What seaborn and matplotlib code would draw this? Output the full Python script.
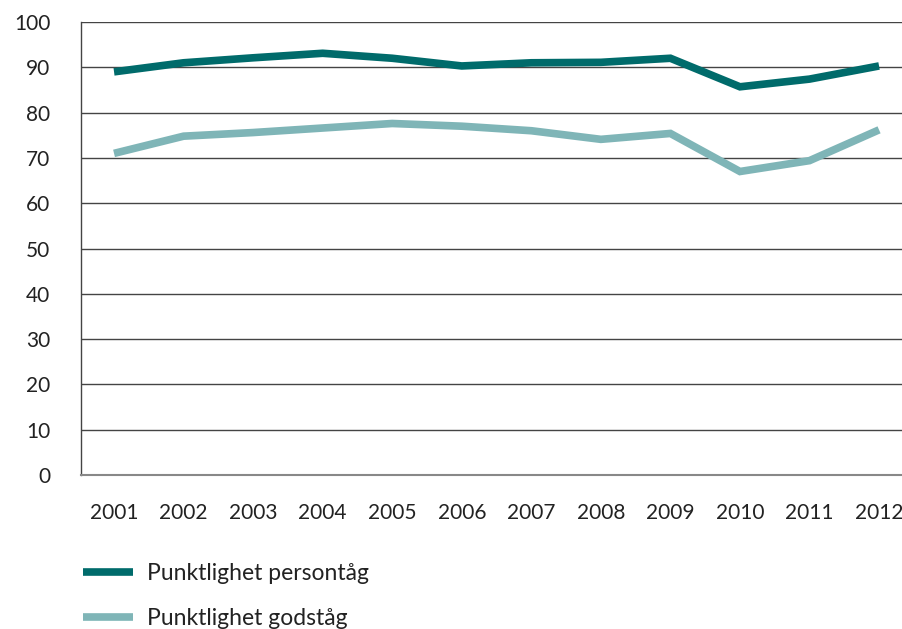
import matplotlib.pyplot as plt
import seaborn as sns
import pandas as pd

# Punctuality per year (%) for passenger and freight trains
years = [2001, 2002, 2003, 2004, 2005, 2006, 2007, 2008, 2009, 2010, 2011, 2012]
persontag = [89.0, 91.0, 92.1, 93.1, 92.0, 90.3, 91.0, 91.1, 92.0, 85.7, 87.4, 90.3]
godstag = [71.0, 74.8, 75.6, 76.6, 77.6, 77.0, 76.0, 74.1, 75.4, 67.0, 69.4, 76.2]
series_names = ["Punktlighet persontåg", "Punktlighet godståg"]
colors = {"Punktlighet persontåg": "#006b6b", "Punktlighet godståg": "#7fb5b7"}

df = pd.DataFrame({
    "year": years * 2,
    "value": persontag + godstag,
    "serie": [series_names[0]] * len(years) + [series_names[1]] * len(years),
})

sns.set_style("white")
plt.rcParams["font.family"] = ["Lato", "DejaVu Sans"]

fig = plt.figure(figsize=(9.02, 6.29), dpi=100)
ax = fig.add_axes([0.0898, 0.2448, 0.9102, 0.7202])

sns.lineplot(data=df, x="year", y="value", hue="serie", palette=colors,
             linewidth=5.5, ax=ax, legend=False)
for line in ax.lines:
    line.set_solid_capstyle("butt")
    line.set_solid_joinstyle("miter")

ax.set_xlim(2000.525, 2012.33)
ax.set_ylim(0, 100)
ax.set_yticks(range(0, 101, 10))
ax.set_xticks(years)
ax.set_xticklabels([str(y) for y in years])
ax.yaxis.grid(True, color="#444444", linewidth=1)
ax.set_axisbelow(True)

for side in ["top", "right"]:
    ax.spines[side].set_visible(False)
ax.spines["left"].set_color("#444444")
ax.spines["bottom"].set_color("#888888")
ax.spines["left"].set_linewidth(1)
ax.spines["bottom"].set_linewidth(1.5)

ax.tick_params(axis="y", length=5, width=1, color="#444444", pad=17,
               labelsize=15, labelcolor="#222222")
ax.tick_params(axis="x", length=0, pad=20, labelsize=15, labelcolor="#222222")
ax.set_xlabel("")
ax.set_ylabel("")

handles = [plt.Line2D([], [], color=colors[n], linewidth=5.5, solid_capstyle="butt")
           for n in series_names]
fig.legend(handles, series_names, loc="upper left", bbox_to_anchor=(0.092, 0.105),
           frameon=False, fontsize=16.5, handlelength=2.2, handletextpad=0.6,
           labelspacing=1.05, borderaxespad=0, borderpad=0, labelcolor="#222222")

plt.savefig("out.png", dpi=100)
